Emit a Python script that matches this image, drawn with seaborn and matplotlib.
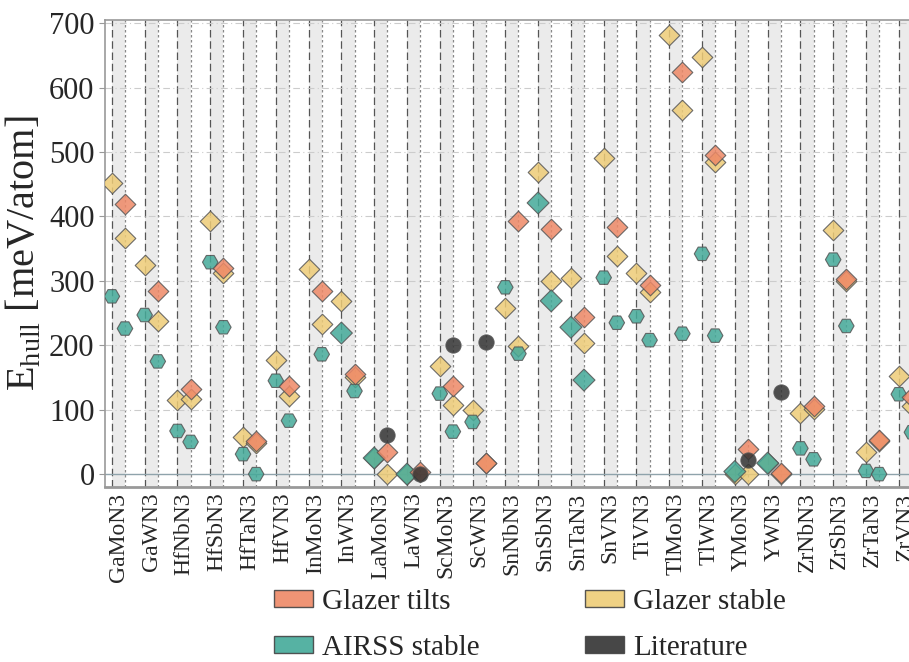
import pandas as pd
import seaborn as sns
import matplotlib.pyplot as plt
import matplotlib.patches as mpatches

# compounds along the x axis
compounds = ["GaMoN3", "GaWN3", "HfNbN3", "HfSbN3", "HfTaN3", "HfVN3", "InMoN3",
             "InWN3", "LaMoN3", "LaWN3", "ScMoN3", "ScWN3", "SnNbN3", "SnSbN3",
             "SnTaN3", "SnVN3", "TiVN3", "TlMoN3", "TlWN3", "YMoN3", "YWN3",
             "ZrNbN3", "ZrSbN3", "ZrTaN3", "ZrVN3"]

# Glazer stable (compound, slot, E_hull)
stable_cmp = ["GaMoN3", "GaMoN3", "GaWN3", "GaWN3", "HfNbN3", "HfNbN3", "HfSbN3", "HfSbN3",
              "HfTaN3", "HfTaN3", "HfVN3", "HfVN3", "InMoN3", "InMoN3", "InWN3", "InWN3",
              "LaMoN3", "LaMoN3", "LaWN3", "ScMoN3", "ScMoN3", "ScWN3", "ScWN3",
              "SnNbN3", "SnNbN3", "SnSbN3", "SnSbN3", "SnTaN3", "SnTaN3", "SnVN3", "SnVN3",
              "TiVN3", "TiVN3", "TlMoN3", "TlMoN3", "TlWN3", "TlWN3", "YMoN3", "YMoN3",
              "YWN3", "YWN3", "ZrNbN3", "ZrNbN3", "ZrSbN3", "ZrSbN3", "ZrTaN3", "ZrTaN3",
              "ZrVN3", "ZrVN3"]
stable_slot = ["L", "R", "L", "R", "L", "R", "L", "R",
               "L", "R", "L", "R", "L", "R", "L", "R",
               "L", "R", "L", "L", "R", "L", "R",
               "L", "R", "L", "R", "L", "R", "L", "R",
               "L", "R", "L", "R", "L", "R", "L", "R",
               "L", "R", "L", "R", "L", "R", "L", "R",
               "L", "R"]
stable_e = [452, 367, 324, 237, 115, 117, 393, 312,
            58, 49, 177, 122, 319, 233, 268, 150,
            25, 0, 0, 168, 108, 100, 17,
            258, 199, 469, 300, 304, 203, 490, 338,
            313, 282, 682, 565, 648, 484, 0, 0,
            17, 0, 95, 101, 379, 300, 35, 52,
            153, 106]

# Glazer tilts
tilts_cmp = ["GaMoN3", "GaWN3", "HfNbN3", "HfSbN3", "HfTaN3", "HfVN3", "InMoN3", "InWN3",
             "LaMoN3", "LaWN3", "ScMoN3", "ScWN3", "SnNbN3", "SnSbN3", "SnTaN3", "SnVN3",
             "TiVN3", "TlMoN3", "TlWN3", "YMoN3", "YWN3", "ZrNbN3", "ZrSbN3", "ZrTaN3", "ZrVN3"]
tilts_e = [419, 284, 132, 320, 51, 137, 284, 155,
           35, 3, 137, 18, 393, 380, 244, 383,
           294, 625, 496, 39, 2, 106, 303, 53, 119]

# AIRSS stable
airss_cmp = ["GaMoN3", "GaMoN3", "GaWN3", "GaWN3", "HfNbN3", "HfNbN3", "HfSbN3", "HfSbN3",
             "HfTaN3", "HfTaN3", "HfVN3", "HfVN3", "InMoN3", "InWN3", "InWN3",
             "LaMoN3", "LaWN3", "ScMoN3", "ScMoN3", "ScWN3", "SnNbN3", "SnNbN3",
             "SnSbN3", "SnSbN3", "SnTaN3", "SnTaN3", "SnVN3", "SnVN3", "TiVN3", "TiVN3",
             "TlMoN3", "TlWN3", "TlWN3", "YMoN3", "YWN3", "ZrNbN3", "ZrNbN3",
             "ZrSbN3", "ZrSbN3", "ZrTaN3", "ZrTaN3", "ZrVN3", "ZrVN3"]
airss_slot = ["L", "R", "L", "R", "L", "R", "L", "R",
              "L", "R", "L", "R", "R", "L", "R",
              "L", "L", "L", "R", "L", "L", "R",
              "L", "R", "L", "R", "L", "R", "L", "R",
              "R", "L", "R", "L", "L", "L", "R",
              "L", "R", "L", "R", "L", "R"]
airss_e = [276, 226, 247, 175, 67, 50, 329, 228,
           31, 0, 145, 83, 186, 219, 129,
           25, 0, 125, 66, 81, 290, 187,
           421, 269, 228, 146, 305, 235, 245, 208,
           218, 342, 215, 4, 17, 40, 23,
           333, 230, 5, 0, 124, 65]
airss_shape = ["H", "H", "H", "H", "H", "H", "H", "H",
               "H", "H", "H", "H", "H", "D", "H",
               "D", "D", "H", "H", "H", "H", "H",
               "D", "D", "D", "D", "H", "H", "H", "H",
               "H", "H", "H", "D", "D", "H", "H",
               "H", "H", "H", "H", "H", "H"]

# literature
lit_cmp = ["LaMoN3", "LaWN3", "ScMoN3", "ScWN3", "YMoN3", "YWN3"]
lit_e = [60, 0, 200, 205, 22, 127]

c_tilts = "#EE8866"
c_stable = "#EECC77"
c_airss = "#44AA99"
c_lit = "#333333"

off = {"L": -0.2, "R": 0.2}
pos = {c: i for i, c in enumerate(compounds)}


def frame(cmps, vals, slots=None, shape=None):
    if slots is None:
        slots = ["R"] * len(cmps)
    df = pd.DataFrame({"cmp": cmps, "slot": slots, "E": vals})
    df["x"] = df["cmp"].map(pos) + df["slot"].map(off)
    if shape is not None:
        df["shape"] = shape
    return df


df_stable = frame(stable_cmp, stable_e, stable_slot)
df_tilts = frame(tilts_cmp, tilts_e)
df_airss = frame(airss_cmp, airss_e, airss_slot, airss_shape)
df_lit = frame(lit_cmp, lit_e)

sns.set_style("white")
plt.rcParams["font.family"] = ["Liberation Serif", "DejaVu Serif"]
plt.rcParams["mathtext.fontset"] = "custom"
plt.rcParams["mathtext.rm"] = "Liberation Serif"

fig = plt.figure(figsize=(9.09, 6.62), dpi=100)
ax = fig.add_axes([105 / 909, 1 - 487 / 662, 820 / 909, 467 / 662])

# bands and guide lines
for i in range(len(compounds)):
    ax.axvspan(i - 0.2, i + 0.2, color="#ebebeb", zorder=0, lw=0)
    ax.axvline(i - 0.2, color="#555555", lw=0.9, ls=(0, (6, 3)), zorder=1)
    ax.axvline(i + 0.2, color="#888888", lw=0.9, ls=(0, (2, 2)), zorder=1)
for yv in range(100, 701, 100):
    ax.axhline(yv, color="#cccccc", lw=0.8, ls=(0, (6, 3, 1, 3)), zorder=1)
ax.axhline(0, color="#8fa3ab", lw=1.0, zorder=1)

kw = dict(s=110, edgecolor="#555555", linewidth=0.8, alpha=0.85, legend=False, ax=ax, zorder=3)
sns.scatterplot(data=df_stable, x="x", y="E", marker="D", color=c_stable, **kw)
sns.scatterplot(data=df_airss, x="x", y="E", style="shape", markers={"D": "D", "H": "H"},
                color=c_airss, **{**kw, "s": 125})
sns.scatterplot(data=df_tilts, x="x", y="E", marker="D", color=c_tilts, **kw)
sns.scatterplot(data=df_lit, x="x", y="E", marker="o", color=c_lit, **{**kw, "s": 120})

ax.set_xlim(-0.41, 24.6)
ax.set_ylim(-20, 705)
ax.set_xticks(range(len(compounds)))
ax.set_xticklabels(compounds, rotation=90, fontsize=17)
ax.set_yticks(range(0, 701, 100))
ax.tick_params(axis="y", labelsize=22, length=4, color="#999999", direction="out", left=True)
ax.tick_params(axis="x", length=0, pad=4)
ax.set_xlabel("")
ax.set_ylabel(r"E$_{\mathrm{hull}}$ [meV/atom]", fontsize=29, labelpad=4)

for side in ["left", "top", "right"]:
    ax.spines[side].set_color("#999999")
    ax.spines[side].set_linewidth(1.2)
ax.spines["bottom"].set_color("#999999")
ax.spines["bottom"].set_linewidth(2)

handles = [mpatches.Patch(facecolor=c_tilts, edgecolor="#444444", alpha=0.9, label="Glazer tilts"),
           mpatches.Patch(facecolor=c_airss, edgecolor="#444444", alpha=0.9, label="AIRSS stable"),
           mpatches.Patch(facecolor=c_stable, edgecolor="#444444", alpha=0.9, label="Glazer stable"),
           mpatches.Patch(facecolor=c_lit, edgecolor="#444444", alpha=0.9, label="Literature")]
fig.legend(handles=handles, loc="upper center", bbox_to_anchor=(0.583, 0.137), ncol=2,
           frameon=False, fontsize=21, handlelength=1.35, handleheight=0.55,
           columnspacing=3.6, labelspacing=0.68, handletextpad=0.3, borderpad=0.1)

fig.savefig("out.png", dpi=100)
